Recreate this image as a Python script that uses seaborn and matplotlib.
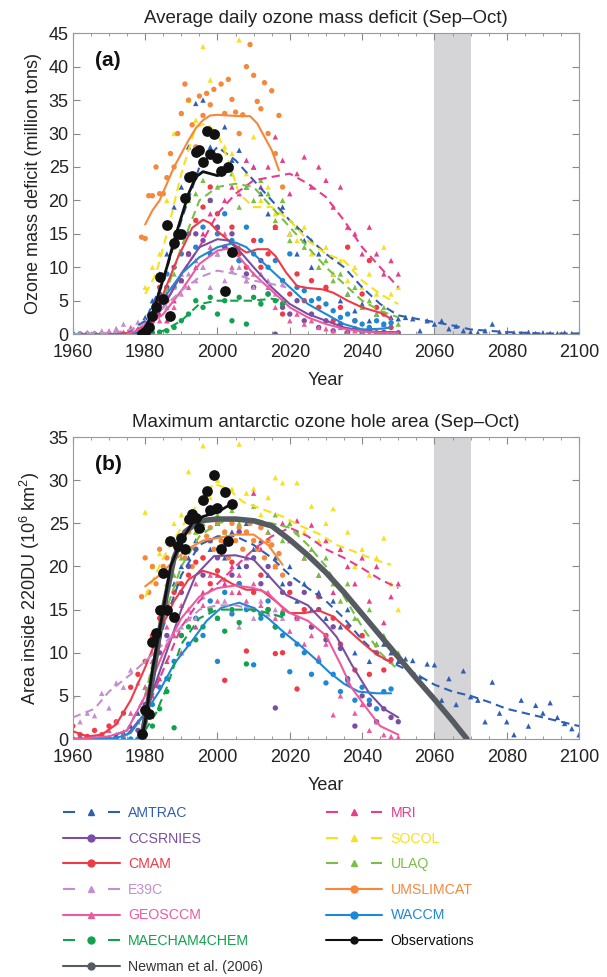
import numpy as np
import pandas as pd
import seaborn as sns
import matplotlib.pyplot as plt
from matplotlib.lines import Line2D

# ---------------- panel (a): average daily ozone mass deficit (million tons) ----------------
# smoothed model curves: (years, values)
a_amtrac_line = ([1960, 1970, 1975, 1980, 1985, 1990, 1995, 2000, 2005, 2010, 2015, 2020, 2025, 2030, 2035,
                  2040, 2045, 2050, 2055, 2060, 2065, 2070, 2075, 2080, 2090, 2100],
                 [0, 0, 0.2, 2, 8, 17, 25, 28, 26, 23, 20, 17, 14.5, 12, 10, 7, 4.5, 2.8, 2.3, 1.8, 1.3, 0.7,
                  0.5, 0.3, 0.1, 0.1])
a_socol_line = ([1980, 1983, 1986, 1990, 1994, 1997, 2000, 2003, 2006, 2010, 2015, 2020, 2025, 2030, 2035, 2040,
                 2045, 2050],
                [6, 9, 15, 24, 31, 31.5, 30, 26, 21, 19, 19, 17, 14, 12, 11, 8, 6, 4.5])
a_mri_line = ([1980, 1985, 1990, 1995, 2000, 2005, 2010, 2015, 2020, 2025, 2030, 2035, 2040, 2045, 2050],
              [1, 4, 9, 13, 18, 21, 23, 23.5, 24, 22.5, 20.5, 17, 13, 10, 7])
a_ulaq_line = ([1980, 1985, 1990, 1995, 2000, 2005, 2010, 2015, 2020, 2025, 2030, 2035, 2040, 2045, 2050],
               [0.5, 5, 13, 20, 22, 22.5, 22, 19, 16, 13, 10, 7.5, 5, 3.5, 2.5])
a_umslimcat_line = ([1980, 1982, 1984, 1986, 1988, 1990, 1992, 1994, 1996, 1998, 2000, 2003, 2006, 2009, 2011,
                     2013, 2015, 2017],
                    [16.4, 18.5, 20, 22.5, 25, 27, 29, 30.8, 32, 32.7, 32.8, 32.7, 32.6, 32.6, 31.5, 29.5, 27.5,
                     24.5])
a_cmam_line = ([1960, 1970, 1977, 1981, 1985, 1989, 1991, 1993, 1996, 1998, 2000, 2004, 2008, 2011, 2014, 2016,
                2019, 2022, 2025, 2029, 2032, 2036, 2040, 2045, 2048],
               [0, 0, 0.2, 2, 6, 11.4, 13.6, 15.9, 17.1, 16.6, 15.4, 13.6, 12.2, 12.7, 12.7, 11.7, 9.2, 7.2, 6.9,
                6.7, 6.2, 5, 4, 3.2, 2.3])
a_ccsrnies_line = ([1977, 1980, 1985, 1990, 1995, 2000, 2003, 2006, 2010, 2015, 2020, 2025, 2030, 2035, 2040,
                    2045, 2050],
                   [0, 1, 4, 9, 13, 14.2, 14, 12.5, 10, 7, 4.5, 3, 2, 1, 0.5, 0.3, 0.3])
a_waccm_line = ([1960, 1970, 1975, 1978, 1980, 1983, 1986, 1990, 1995, 2000, 2005, 2008, 2011, 2015, 2020, 2025,
                 2030, 2035, 2040, 2045, 2048],
                [0, 0, 0, 0.3, 1, 3, 6, 9, 11.5, 13, 13.7, 13, 11.5, 9.5, 7, 4.5, 3, 1.5, 0.7, 0.8, 1])
a_geosccm_line = ([1975, 1980, 1985, 1990, 1995, 2000, 2003, 2006, 2010, 2015, 2020, 2025, 2030, 2035, 2040,
                   2045, 2050],
                  [0, 1, 3, 6.5, 10.5, 12.5, 12.8, 11.5, 9, 6.5, 4, 2.5, 1.5, 0.8, 0.4, 0.2, 0.2])
a_e39c_line = ([1960, 1970, 1975, 1980, 1985, 1990, 1995, 2000, 2005, 2010, 2015, 2019],
               [0, 0.2, 0.5, 1.5, 4, 6.5, 8.5, 9.5, 9, 8, 7.5, 7])
a_maecham_line = ([1980, 1985, 1990, 1995, 2000, 2005, 2010, 2015, 2019],
                  [0, 0.5, 2, 4.5, 5, 5, 5, 5.3, 4.8])
a_obs_line = ([1978, 1980, 1982, 1984, 1986, 1988, 1990, 1992, 1994, 1996, 1998, 2000, 2002, 2004],
              [0, 1, 3, 6.5, 10, 14, 17.5, 21, 23.5, 24.3, 24.0, 23.7, 24.2, 24.6])

# yearly model values: (first year, step in years, values)
a_amtrac_pts = (1960, 2, [0, 0, 0, 0, 0, 0, 0, 0, 0.3, 0.8, 2.5, 5, 9, 12, 19, 22, 28, 34.5,
                          35, 28, 30, 31, 26, 27.5, 22, 25, 21, 18, 16, 19, 15, 12, 14, 10, 12, 7, 9, 5,
                          6, 3.5, 4.5, 2, 3, 1.5, 2.5, 2.3, 2.5, 2.3, 0.5, 2.0, 1.5, 2.0, 0.8, 1.2, 0.5, 0.3,
                          0.2, 0.5, 1.5, 0.3, 0.1, 0.2, 0.1, 0.3, 0.1, 0.2, 0.1, 0.1, 0.2, 0.1, 0.0])
a_socol_pts = (1980, 2, [7, 10, 12, 20, 30, 33, 35, 32, 43, 38, 30, 28, 27, 44, 24, 29.5, 20, 22, 18, 20,
                         15, 14, 16, 12, 10, 13, 9, 11, 8, 10, 7, 9, 6, 13, 6, 7])
a_mri_pts = (1980, 2, [0.5, 1, 3, 2, 5, 8, 12, 10, 15, 18, 16, 20, 22, 21, 26, 25, 22, 25, 29.5, 26,
                       21, 24, 26.5, 22, 25, 23, 19, 22, 16, 15, 12, 16, 12, 9, 11, 9])
a_ulaq_pts = (1980, 2, [0.5, 2, 4, 7, 9, 15, 20, 21, 23, 20, 22, 25, 24, 19, 22, 20, 23, 21, 17, 20,
                        14, 16, 13, 14, 10, 11, 8, 9, 6, 7, 4, 5, 3, 4, 2, 1.5])
a_umslimcat_pts = (1979, 1, [14.5, 14.3, 20.7, 20.7, 25.0, 21, 21, 23.4, 27, 25, 30, 33, 37.4, 35, 31.3, 28,
                             35.6, 32.7, 36, 34.3, 36.6, 30, 37.4, 33, 38.1, 35.1, 33.2, 30, 32.8, 40,
                             43.3, 38.7, 34.8, 33.7, 37.6, 30, 36.4, 27, 32.7, 22])
a_cmam_pts = (1960, 2, [0, 0, 0, 0, 0, 0, 0.2, 0, 0.3, 0.5, 0.5, 2, 7, 5, 13, 15, 12, 17, 19, 22,
                        18, 13, 16, 12, 10, 14, 10, 12, 16, 3, 6, 9, 5, 8, 4, 7, 2, 4, 13, 2, 6, 11, 4, 3, 1])
a_ccsrnies_pts = (1976, 2, [0, 0.3, 0.5, 2, 6, 7, 10, 8, 12, 15, 14, 20, 16, 13, 15, 11, 9, 7, 11, 6,
                            0, 4, 3, 5, 2, 3, 1, 2, 0.5, 1.5, 0.3, 0.8, 0.2, 0.5, 0.2, 0.3, 0.1, 0.2])
a_waccm_pts = (1960, 2, [0, 0, 0, 0, 0, 0, 0, 0, 0, 0, 1, 3, 5, 9, 7, 12, 15, 13, 16, 12,
                         15, 18, 14, 11, 16, 12, 14, 10, 11, 8, 12, 7, 6.5, 5, 5.3, 4.5, 3.5, 2.5, 3, 2,
                         1.5, 1, 2, 1.5, 1.7])
a_geosccm_pts = (1970, 2, [0.5, 0.8, 0.3, 1, 0.5, 1.5, 3, 2, 6, 4, 9, 7, 11, 10, 13, 12, 15, 10, 13, 8,
                           9, 5, 7, 4, 5, 2, 3, 1.5, 2, 1, 0.8, 0.5, 1, 0.3, 0.5, 0.2, 0.1, 0.1, 0.1, 0.1])
a_e39c_pts = (1960, 2, [0.2, 0.1, 0.3, 0.2, 0.5, 0.3, 0.8, 1.5, 0.5, 1.8, 2, 3, 5, 4, 7, 6, 9, 8, 10, 7,
                        12, 8, 9.5, 10, 8, 7, 9, 8, 6, 7.5])
a_maecham_pts = (1980, 2, [0, 0.2, 0.3, 0.5, 1, 2, 3, 5, 4, 5.5, 3, 5, 2, 5.5, 1.5, 5.5, 4.5, 6, 5, 4.5])
a_obs_pts = (1979, 1, [0.0, 0.3, 1.0, 2.7, 4.0, 8.6, 5.2, 16.3, 2.7, 13.6, 14.9, 14.9, 20.4, 23.5, 23.7,
                       27.3, 27.6, 25.8, 30.4, 27.0, 30.0, 26.4, 24.4, 6.4, 25.0, 12.3])

# ---------------- panel (b): maximum antarctic ozone hole area (10^6 km^2) ----------------
b_newman_line = ([1979, 1982, 1985, 1988, 1991, 1995, 2000, 2005, 2010, 2015, 2020, 2025, 2030, 2035, 2040, 2045,
                  2050, 2055, 2060, 2065, 2069],
                 [0, 7, 15, 21, 24, 25.3, 25.5, 25.5, 25.3, 24.7, 23.1, 21.3, 19.3, 17.0, 14.5, 12.0, 9.5, 7.0,
                  4.6, 2.1, 0])
b_amtrac_line = ([1960, 1970, 1975, 1980, 1985, 1990, 1995, 2000, 2005, 2010, 2015, 2020, 2025, 2030, 2035, 2040,
                  2045, 2050, 2055, 2060, 2065, 2070, 2075, 2080, 2085, 2090, 2095, 2100],
                 [0, 0.2, 1, 5, 13, 19, 22.5, 23.5, 23.5, 22.5, 21, 19, 17.5, 16, 14, 11.5, 9.5, 8.5, 7.5, 6.3,
                  5.5, 5, 4.3, 3.5, 3, 2.5, 2, 1.5])
b_socol_line = ([1980, 1985, 1990, 1995, 1999, 2003, 2007, 2012, 2018, 2023, 2028, 2033, 2038, 2044, 2048],
                [16.5, 21, 24.5, 27.5, 29.6, 29, 27.5, 26.7, 25.8, 24.7, 23.8, 22.5, 21.7, 20.7, 20.2])
b_mri_line = ([1980, 1985, 1990, 1995, 2000, 2005, 2010, 2015, 2020, 2025, 2030, 2035, 2040, 2045, 2050],
              [3, 8, 13, 16, 18, 20, 22, 23.5, 24.5, 23.5, 22, 21, 19.8, 18.5, 17.5])
b_ulaq_line = ([1980, 1985, 1990, 1995, 2000, 2005, 2010, 2015, 2020, 2025, 2030, 2035, 2040, 2045, 2050],
               [5, 14, 20, 23.5, 25, 25.5, 25.5, 25, 24.5, 22.5, 20, 16.5, 13, 10, 8])
b_umslimcat_line = ([1980, 1984, 1988, 1992, 1996, 2000, 2005, 2010, 2014, 2018],
                    [17.7, 19, 20.7, 22.1, 23, 23.3, 23.7, 23.7, 22.5, 20.2])
b_cmam_line = ([1960, 1964, 1968, 1972, 1976, 1980, 1984, 1988, 1992, 1996, 2000, 2004, 2008, 2012, 2016, 2020,
                2024, 2028, 2032, 2036, 2040, 2044, 2048],
               [0.9, 0.3, 0.5, 1.7, 4.5, 8.3, 12.5, 16, 18.5, 19.5, 19, 18, 17.3, 17.3, 16, 14.6, 14.6, 14.9,
                14.2, 12.7, 11.2, 9.8, 8.9])
b_ccsrnies_line = ([1975, 1980, 1985, 1990, 1994, 1999, 2005, 2010, 2014, 2019, 2025, 2030, 2033, 2037, 2042,
                    2046, 2050],
                   [0.5, 3, 9, 15, 19, 21.2, 21.3, 20.8, 19, 16.7, 15.5, 13.3, 11.8, 8.7, 5.3, 3.5, 2.5])
b_geosccm_line = ([1960, 1970, 1975, 1980, 1985, 1990, 1995, 2000, 2005, 2010, 2014, 2019, 2025, 2030, 2034,
                   2037, 2041, 2045, 2050],
                  [0, 0.3, 1, 5, 10, 14, 16.5, 17.5, 17.8, 17.5, 16.9, 14.8, 13.7, 12, 8.7, 6, 3.7, 1.5, 0.5])
b_waccm_line = ([1960, 1972, 1976, 1980, 1984, 1988, 1993, 1997, 2001, 2006, 2010, 2014, 2018, 2023, 2027, 2031,
                 2035, 2039, 2044, 2048],
                [0, 0.1, 0.7, 3, 5.6, 8.7, 11.4, 13.7, 15.2, 15.8, 15.2, 14, 12.5, 10.8, 9.3, 7.7, 6.4, 5.5,
                 5.3, 5.3])
b_e39c_line = ([1960, 1963, 1966, 1970, 1973, 1976, 1980, 1985, 1990, 1995, 2000, 2005, 2010, 2015, 2019],
               [2.5, 3, 3.5, 5.5, 6.5, 7.5, 9, 11, 13, 15, 15.5, 15.5, 15, 14.5, 14])
b_maecham_line = ([1980, 1983, 1986, 1990, 1995, 2000, 2005, 2010, 2015, 2019],
                  [1, 3, 6, 11, 14, 15, 15, 15, 14.5, 14])
b_obs_line = ([1979, 1980, 1982, 1985, 1987, 1990, 1993, 1996, 2000, 2004],
              [0, 2, 8, 15, 20, 23, 25, 25.8, 26.3, 27.3])

b_amtrac_pts = (1960, 2, [0, 0, 0, 0, 0.1, 0.2, 0.5, 0.8, 1.5, 3, 6, 9, 13, 16, 18, 20, 21, 23,
                          24.5, 22, 25, 21, 24, 20, 25, 22, 23, 19, 21, 18, 20, 16, 18, 15, 17, 14, 16, 13,
                          15, 10, 12, 9, 11, 11, 10, 9,
                          9.3, 9.1, 7.2, 8.7, 8.6, 4.5, 7, 4, 7.9, 4.9, 4.5, 2, 6.6, 3, 2, 0.5, 4.5, 1.5,
                          3.9, 3, 4.2, 2.5, 1.8, 1.2, 0.5])
b_socol_pts = (1980, 2, [26.3, 20, 21.5, 23, 25, 26, 31, 24, 34, 28, 30, 35.2, 29, 34.2, 28.5, 29, 26, 28,
                         30.3, 29.7, 25, 29.7, 24, 27, 23, 25, 26.7, 22, 24, 20, 22, 19, 21, 23.3, 18, 15])
b_mri_pts = (1980, 2, [2, 5, 7, 9, 12, 10, 15, 13, 17, 15, 19, 18, 20, 17, 21, 28.5, 22, 24, 20, 25,
                       23, 25.3, 21, 24.8, 19, 23, 17, 22, 20, 18, 21, 16, 20, 13.5, 16.5, 18])
b_ulaq_pts = (1980, 2, [6, 12, 15, 18, 19, 21, 22, 24, 25, 23, 26, 24, 26.5, 25, 24, 27, 25, 24, 26, 23,
                        25, 24, 21, 22, 19, 21, 18, 16, 18, 14, 12, 15, 11, 12, 9, 10])
b_umslimcat_pts = (1979, 1, [16.5, 21, 17, 20, 18, 22, 20, 21, 19, 22.5, 18, 23, 21, 24, 20, 22, 25, 21, 23.5,
                             24.5, 22, 25, 23, 24, 21, 25, 23, 24.5, 22, 24, 25, 23, 22, 24.5, 21, 23, 22.5,
                             20, 21.5, 19])
b_cmam_pts = (1960, 2, [1.5, 0.5, 0.3, 1, 0.5, 1.5, 2, 3, 6, 7.5, 9, 12, 14, 15.5, 17, 18, 19, 20.5, 21, 18,
                        19.5, 6.8, 20.5, 18, 10.2, 17, 19, 15, 9.9, 10, 17, 5.8, 15, 13, 16.5, 12, 14, 11, 13,
                        8, 12, 7.5, 10, 8, 9.2])
b_ccsrnies_pts = (1978, 2, [1, 4, 7, 10, 12, 14, 17, 20, 22, 19, 23, 21, 22.5, 19, 24, 20, 21, 18, 20, 3.6,
                            17, 18, 14, 17, 13, 15, 11.5, 13, 10.5, 7, 1.5, 5, 4, 2, 3.5, 2.5, 2])
b_geosccm_pts = (1970, 2, [1, 2, 0.5, 3, 2, 6, 9, 11, 13, 12, 15.5, 14, 18, 15.5, 19, 16, 18.5, 17, 19, 16,
                           18, 15.5, 17, 14, 15, 12.5, 14, 11, 12, 9.5, 11, 2.8, 5, 6.5, 3, 4, 1, 2, 0.5, 0.3,
                           0.2])
b_waccm_pts = (1960, 2, [0, 0, 0, 0, 0, 0, 0, 0, 0, 0, 2, 4, 6, 7, 9, 12, 11, 14, 12, 16,
                         9, 17, 14.5, 18, 15, 8.6, 14, 16, 13, 12, 7.8, 11, 10, 7.5, 9, 6.5, 7.5, 5.5, 6.8,
                         4.5, 6, 4.5, 3.5, 5.5, 5.8])
b_e39c_pts = (1960, 2, [5, 2, 3, 2.7, 5.3, 3.6, 6.5, 6, 8, 6.5, 9, 10, 12, 11, 14, 13, 15, 14, 16.5, 15,
                        14, 16, 15, 13, 15.5, 14, 16, 14.5, 15, 14])
b_maecham_pts = (1980, 2, [0.5, 1.5, 3.5, 5.5, 1.3, 12, 13, 11.5, 13, 15, 14, 12.5, 15, 13.5, 8.7, 15, 14.5,
                           15, 13, 14.5])
b_obs_pts = (1979, 1, [0.6, 3.4, 2.9, 11.2, 12.3, 14.9, 19.2, 14.9, 23.0, 14.1, 22.4, 23.3, 22.0, 25.5, 26.1,
                       25.6, 24.5, 27.7, 28.8, 26.5, 30.6, 26.8, 22.0, 28.6, 22.9, 27.3])

# model -> (colour, marker, dashed)
STYLE = {
    'AMTRAC': ('#2f5fb3', '^', True),
    'CCSRNIES': ('#7a4ea3', 'o', False),
    'CMAM': ('#ef3b48', 'o', False),
    'E39C': ('#c48fd0', '^', True),
    'GEOSCCM': ('#ec5aa0', '^', False),
    'MAECHAM4CHEM': ('#12a24e', 'o', True),
    'MRI': ('#e63d8c', '^', True),
    'SOCOL': ('#f7e11d', '^', True),
    'ULAQ': ('#78c043', '^', True),
    'UMSLIMCAT': ('#f5883a', 'o', False),
    'WACCM': ('#1f88d4', 'o', False),
}
NEWMAN_C = '#555b60'

a_lines = {'AMTRAC': a_amtrac_line, 'SOCOL': a_socol_line, 'MRI': a_mri_line, 'ULAQ': a_ulaq_line,
           'UMSLIMCAT': a_umslimcat_line, 'CMAM': a_cmam_line, 'CCSRNIES': a_ccsrnies_line,
           'WACCM': a_waccm_line, 'GEOSCCM': a_geosccm_line, 'E39C': a_e39c_line, 'MAECHAM4CHEM': a_maecham_line}
a_points = {'AMTRAC': a_amtrac_pts, 'SOCOL': a_socol_pts, 'MRI': a_mri_pts, 'ULAQ': a_ulaq_pts,
            'UMSLIMCAT': a_umslimcat_pts, 'CMAM': a_cmam_pts, 'CCSRNIES': a_ccsrnies_pts,
            'WACCM': a_waccm_pts, 'GEOSCCM': a_geosccm_pts, 'E39C': a_e39c_pts, 'MAECHAM4CHEM': a_maecham_pts}
b_lines = {'AMTRAC': b_amtrac_line, 'SOCOL': b_socol_line, 'MRI': b_mri_line, 'ULAQ': b_ulaq_line,
           'UMSLIMCAT': b_umslimcat_line, 'CMAM': b_cmam_line, 'CCSRNIES': b_ccsrnies_line,
           'WACCM': b_waccm_line, 'GEOSCCM': b_geosccm_line, 'E39C': b_e39c_line, 'MAECHAM4CHEM': b_maecham_line}
b_points = {'AMTRAC': b_amtrac_pts, 'SOCOL': b_socol_pts, 'MRI': b_mri_pts, 'ULAQ': b_ulaq_pts,
            'UMSLIMCAT': b_umslimcat_pts, 'CMAM': b_cmam_pts, 'CCSRNIES': b_ccsrnies_pts,
            'WACCM': b_waccm_pts, 'GEOSCCM': b_geosccm_pts, 'E39C': b_e39c_pts, 'MAECHAM4CHEM': b_maecham_pts}


def line_frame(lines):
    rows = []
    for m, (yrs, vals) in lines.items():
        rows += [(m, y, v) for y, v in zip(yrs, vals)]
    return pd.DataFrame(rows, columns=['model', 'year', 'value'])


def pts_frame(points):
    rows = []
    for m, (y0, step, vals) in points.items():
        rows += [(m, y0 + i * step, v) for i, v in enumerate(vals)]
    return pd.DataFrame(rows, columns=['model', 'year', 'value'])


sns.set_style("ticks")
plt.rcParams['font.family'] = ['Liberation Sans', 'DejaVu Sans']
plt.rcParams['mathtext.fontset'] = 'custom'
plt.rcParams['mathtext.rm'] = 'Liberation Sans'
plt.rcParams['mathtext.default'] = 'regular'

palette = {m: s[0] for m, s in STYLE.items()}
markers = {m: s[1] for m, s in STYLE.items()}
dashes = {m: ((4, 2.5) if s[2] else '') for m, s in STYLE.items()}

fig = plt.figure(figsize=(6.07, 9.77), dpi=100)
ax_a = fig.add_axes([0.120, 0.658, 0.834, 0.308])
ax_b = fig.add_axes([0.120, 0.2436, 0.834, 0.309])


def draw_panel(ax, lines, points, obs_line, obs_pts, ymax, title, ylabel, tag, newman=None):
    ax.axvspan(2060, 2070, color='#d5d5d7', lw=0, zorder=0)
    dfp = pts_frame(points)
    dfl = line_frame(lines)
    sns.scatterplot(data=dfp, x='year', y='value', hue='model', style='model', palette=palette,
                    markers=markers, s=15, linewidth=0, legend=False, ax=ax, zorder=2)
    sns.lineplot(data=dfl, x='year', y='value', hue='model', style='model', palette=palette,
                 dashes=dashes, linewidth=1.5, legend=False, ax=ax, estimator=None, zorder=3)
    if newman is not None:
        sns.lineplot(x=newman[0], y=newman[1], color=NEWMAN_C, linewidth=4, ax=ax, zorder=4)
    y0, step, vals = obs_pts
    sns.lineplot(x=obs_line[0], y=obs_line[1], color='#111111', linewidth=2, ax=ax, zorder=5)
    sns.scatterplot(x=[y0 + i * step for i in range(len(vals))], y=vals, color='#111111', s=60,
                    linewidth=0, ax=ax, zorder=6)

    ax.set_xlim(1960, 2100)
    ax.set_ylim(0, ymax)
    ax.set_xticks(range(1960, 2101, 20))
    ax.set_xticks(range(1960, 2101, 5), minor=True)
    ax.set_yticks(range(0, ymax + 1, 5))
    ax.tick_params(which='both', direction='in', top=True, right=True, color='#888888',
                   labelsize=13, labelcolor='#222222', pad=3)
    ax.tick_params(axis='x', which='major', pad=7)
    ax.tick_params(which='major', length=5)
    ax.tick_params(which='minor', length=2.5)
    for sp in ax.spines.values():
        sp.set_color('#999999')
        sp.set_linewidth(0.8)
    ax.set_title(title, fontsize=13.5, color='#222222', pad=7)
    ax.set_xlabel('Year', fontsize=13, color='#222222', labelpad=8)
    ax.set_ylabel(ylabel, fontsize=13, color='#222222', labelpad=5)
    ax.text(0.043, 0.91, tag, transform=ax.transAxes, fontsize=15, fontweight='bold',
            va='center', color='#111111')


draw_panel(ax_a, a_lines, a_points, a_obs_line, a_obs_pts, 45,
           'Average daily ozone mass deficit (Sep\u2013Oct)', 'Ozone mass deficit (million tons)', '(a)')
draw_panel(ax_b, b_lines, b_points, b_obs_line, b_obs_pts, 35,
           'Maximum antarctic ozone hole area (Sep\u2013Oct)', 'Area inside 220DU (10$^{6}$ km$^{2}$)', '(b)',
           newman=b_newman_line)

# legend
order = ['AMTRAC', 'CCSRNIES', 'CMAM', 'E39C', 'GEOSCCM', 'MAECHAM4CHEM', 'Newman et al. (2006)',
         'MRI', 'SOCOL', 'ULAQ', 'UMSLIMCAT', 'WACCM', 'Observations']
handles, colours = [], []
for name in order:
    if name in STYLE:
        c, mk, dashed = STYLE[name]
    elif name == 'Observations':
        c, mk, dashed = '#111111', 'o', False
    else:
        c, mk, dashed = NEWMAN_C, 'o', False
    h = Line2D([0], [0], color=c, marker=mk, markersize=5, lw=1.5)
    if dashed:
        h.set_dashes([5.8, 15.8])
    handles.append(h)
    colours.append('#333333' if name.startswith('Newman') else c)

leg = fig.legend(handles, order, ncol=2, loc='upper left', bbox_to_anchor=(0.104, 0.175),
                 frameon=False, fontsize=10.2, handlelength=4.0, handletextpad=0.6,
                 labelspacing=0.82, columnspacing=4.4, borderpad=0, borderaxespad=0)
for t, c in zip(leg.get_texts(), colours):
    t.set_color(c)

fig.savefig('out.png', dpi=100)
